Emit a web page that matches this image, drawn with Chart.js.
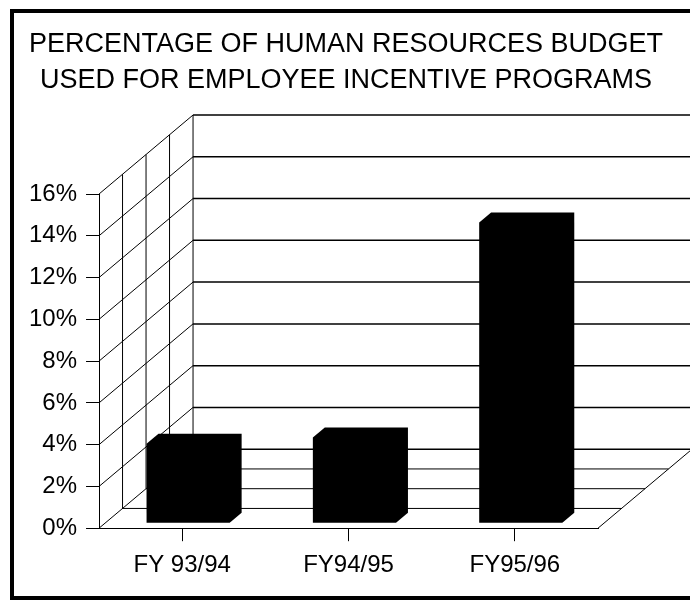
<!DOCTYPE html>
<html>
<head>
<meta charset="utf-8">
<script src="https://cdn.jsdelivr.net/npm/chart.js@4.4.1/dist/chart.umd.min.js"></script>
<style>
  html, body { margin: 0; padding: 0; background: #fff; }
</style>
</head>
<body>
<canvas id="budgetChart" width="690" height="601"></canvas>
<script>
var categories = ["FY 93/94", "FY94/95", "FY95/96"];
var incentivePct = [3.8, 4.1, 14.4];
var titleLines = ["PERCENTAGE OF HUMAN RESOURCES BUDGET", "USED FOR EMPLOYEE INCENTIVE PROGRAMS"];
var yMin = 0, yMax = 16, yStep = 2;

// oblique offset from the front plane to the back wall
var depthX = 94, depthY = -79;
var depthLines = [0.25, 0.5, 0.75];
// bars sit a little way into the floor
var barFront = 0.063, barBack = 0.19;

var fontFamily = "'Liberation Sans', Arial, sans-serif";

function seg(ctx, x1, y1, x2, y2) {
  ctx.beginPath();
  ctx.moveTo(x1, y1);
  ctx.lineTo(x2, y2);
  ctx.stroke();
}

var box3d = {
  id: "box3d",
  beforeDraw: function(chart) {
    var ctx = chart.ctx;
    ctx.save();
    ctx.fillStyle = "#fff";
    ctx.fillRect(0, 0, chart.width, chart.height);
    // page frame, open on the right
    ctx.strokeStyle = "#000";
    ctx.lineWidth = 4;
    ctx.beginPath();
    ctx.moveTo(chart.width + 5, 11);
    ctx.lineTo(12, 11);
    ctx.lineTo(12, 598);
    ctx.lineTo(chart.width + 5, 598);
    ctx.stroke();
    // two-line heading, centred on the page
    ctx.fillStyle = "#000";
    ctx.font = "27px " + fontFamily;
    ctx.textAlign = "center";
    ctx.textBaseline = "middle";
    ctx.fillText(titleLines[0], 346, 45);
    ctx.fillText(titleLines[1], 346, 81);
    ctx.restore();
  },
  beforeDatasetsDraw: function(chart) {
    var ctx = chart.ctx, a = chart.chartArea, y = chart.scales.y;
    var l = a.left, r = a.right, t = a.top, b = a.bottom;
    ctx.save();
    ctx.strokeStyle = "#000";
    y.ticks.forEach(function(tk) {
      var py = y.getPixelForValue(tk.value);
      ctx.lineWidth = 1.5;
      seg(ctx, l + depthX, py + depthY, r + depthX, py + depthY);
      ctx.lineWidth = 1;
      seg(ctx, l, py, l + depthX, py + depthY);
    });
    seg(ctx, l + depthX, t + depthY, l + depthX, b + depthY);
    depthLines.forEach(function(f) {
      // side wall verticals
      seg(ctx, l + f * depthX, t + f * depthY, l + f * depthX, b + f * depthY);
      // floor lines
      seg(ctx, l + f * depthX, b + f * depthY, r + f * depthX, b + f * depthY);
    });
    // right edge of the floor
    seg(ctx, r, b, r + depthX, b + depthY);
    ctx.restore();
  },
  afterDatasetsDraw: function(chart) {
    var ctx = chart.ctx;
    var meta = chart.getDatasetMeta(0);
    var sx = (barBack - barFront) * depthX, sy = (barBack - barFront) * depthY;
    ctx.save();
    ctx.fillStyle = "#000";
    meta.data.forEach(function(bar) {
      var p = bar.getProps(["x", "y", "base", "width"], true);
      var x0 = p.x - p.width / 2 + barFront * depthX;
      var x1 = p.x + p.width / 2 + barFront * depthX;
      var yb = p.base + barFront * depthY;
      var yt = p.y + barFront * depthY;
      ctx.beginPath();
      ctx.moveTo(x0, yb);
      ctx.lineTo(x0, yt);
      ctx.lineTo(x0 + sx, yt + sy);
      ctx.lineTo(x1 + sx, yt + sy);
      ctx.lineTo(x1 + sx, yb + sy);
      ctx.lineTo(x1, yb);
      ctx.closePath();
      ctx.fill();
    });
    ctx.restore();
  }
};

new Chart(document.getElementById("budgetChart"), {
  type: "bar",
  data: {
    labels: categories,
    datasets: [{
      data: incentivePct,
      backgroundColor: "rgba(0,0,0,0)",
      borderWidth: 0,
      barPercentage: 0.5,
      categoryPercentage: 1
    }]
  },
  options: {
    responsive: false,
    animation: false,
    devicePixelRatio: 1,
    layout: { padding: { top: 194, left: 20, right: 92, bottom: 11 } },
    plugins: {
      legend: { display: false },
      tooltip: { enabled: false },
      title: { display: false }
    },
    scales: {
      x: {
        grid: { drawOnChartArea: false, offset: false, tickLength: 13, color: "#000" },
        border: { display: true, color: "#000", width: 1 },
        ticks: { color: "#000", padding: 10, font: { family: fontFamily, size: 24 } }
      },
      y: {
        min: yMin,
        max: yMax,
        grid: { drawOnChartArea: false, tickLength: 13, color: "#000" },
        border: { display: true, color: "#000", width: 1 },
        ticks: {
          stepSize: yStep,
          color: "#000",
          padding: 9,
          font: { family: fontFamily, size: 24 },
          callback: function(v) { return v + "%"; }
        }
      }
    }
  },
  plugins: [box3d]
});
</script>
</body>
</html>
